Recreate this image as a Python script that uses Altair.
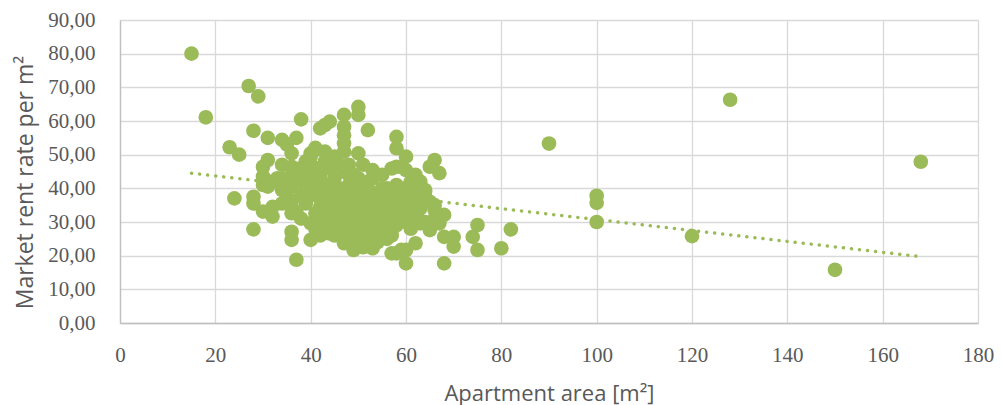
import altair as alt
import pandas as pd

# Apartment area [m²] and market rent rate per m² for each listing
area = [
    15, 18, 23, 25, 24, 27, 29, 28, 31, 34, 37, 38,
    28, 28, 28, 30, 32, 32, 34, 36, 36, 36, 36, 37, 40,
    31, 30, 30, 34, 36, 36, 34, 32, 31, 34, 36, 38, 38, 40, 41,
    42, 43, 44, 47, 47, 47, 47, 47, 50, 50, 52, 58, 58,
    40, 43, 45, 50, 53, 49, 57, 59, 60, 40, 42, 45, 47, 50, 54, 56, 59,
    39, 41, 40, 42, 44, 45, 48, 48, 50, 51, 52, 55, 57, 53, 53, 49, 47, 44,
    58, 60, 60, 60, 66, 67, 65, 58, 62, 64, 64, 59, 57, 60, 66, 68,
    63, 65, 67, 68, 70, 70, 75, 74, 75, 68, 59, 62, 57, 57,
    90, 80, 82, 100, 100, 100, 120, 128, 150, 168,
    41, 42, 43, 44, 45, 46, 47, 48, 49, 50, 51, 52, 53, 54, 55, 56, 57, 58,
    49, 50, 51, 52, 48, 47, 46, 45, 44, 43, 42, 41, 40, 48, 50, 52, 54, 56,
    58, 60, 61, 62, 59, 60, 61, 62, 63, 55, 56, 54, 50, 49, 51, 45, 43, 42,
    41, 38, 37, 35, 34, 33, 36, 38, 39, 41, 43, 44, 46, 47, 48, 49, 51, 53,
    55, 57, 59, 61, 62, 64, 63, 66, 66, 64, 65, 35, 30, 47, 48, 44, 45, 50,
    43, 46, 48, 51, 53, 55, 57, 52, 49, 46, 44, 47, 50, 53, 56, 58, 60, 62,
    63, 61, 59, 45, 48, 52, 55, 42, 39, 40, 38, 46, 49, 54, 43, 42,
]
rent = [
    80.0, 61.1, 52.2, 50.0, 37.0, 70.4, 67.3, 57.1, 55.0, 54.4, 55.0, 60.5,
    37.5, 35.5, 27.8, 33.1, 34.5, 31.6, 35.5, 36.0, 32.6, 27.1, 24.7, 18.8, 24.7,
    48.4, 46.4, 43.5, 47.0, 50.4, 46.4, 43.0, 42.0, 40.5, 39.5, 40.5, 42.5, 45.4, 49.4, 51.4,
    57.8, 58.8, 59.8, 61.8, 58.3, 55.8, 53.3, 50.9, 64.2, 61.8, 57.3, 55.3, 51.9,
    50.4, 50.9, 49.4, 50.4, 45.4, 42.5, 45.9, 46.4, 45.4, 44.5, 43.5, 40.5, 39.5, 38.5, 36.5, 37.5, 35.5,
    35.5, 32.6, 29.6, 34.5, 36.5, 33.6, 32.6, 29.6, 26.6, 31.6, 28.6, 29.6, 27.6, 25.6, 22.2, 21.7, 23.7, 26.6,
    20.7, 21.7, 17.7, 49.4, 48.4, 44.5, 46.4, 46.4, 42.5, 39.5, 37.5, 36.5, 34.5, 33.6, 33.6, 32.1,
    29.6, 27.6, 29.6, 25.6, 25.6, 22.7, 29.1, 25.6, 21.7, 17.7, 21.7, 23.7, 20.7, 26.0,
    53.3, 22.2, 27.8, 37.8, 35.7, 30.0, 25.8, 66.3, 15.8, 47.9,
    38.0, 40.0, 36.0, 34.0, 31.0, 29.0, 36.0, 34.0, 38.0, 36.0, 34.0, 32.0, 30.0, 33.0, 31.0, 33.0, 31.0, 29.0,
    31.0, 28.0, 27.0, 25.0, 27.0, 30.0, 33.0, 37.0, 39.0, 41.0, 44.0, 46.0, 42.0, 41.0, 43.0, 40.0, 38.0, 40.0,
    41.0, 40.0, 38.0, 36.0, 33.0, 30.0, 28.0, 32.0, 34.0, 26.0, 28.0, 24.0, 23.0, 25.0, 22.5, 26.0, 29.0, 31.0,
    28.0, 31.0, 33.0, 38.0, 41.0, 43.0, 44.0, 46.0, 48.0, 52.0, 48.0, 46.0, 47.0, 45.0, 47.0, 44.0, 47.0, 43.0,
    44.0, 37.0, 37.0, 42.0, 44.0, 39.0, 42.0, 35.0, 31.0, 30.0, 36.0, 53.0, 41.0, 34.0, 36.0, 30.0, 28.0, 33.0,
    38.0, 40.0, 38.0, 40.0, 38.0, 35.0, 34.0, 36.0, 35.0, 36.0, 31.0, 27.0, 31.0, 34.0, 25.0, 31.0, 37.0, 39.0,
    37.0, 35.0, 39.0, 43.0, 44.0, 42.0, 40.0, 37.0, 40.0, 38.0, 38.0, 27.0, 28.0, 27.0, 33.0, 26.0,
]

# Linear trend line end points
trend_area = [15, 168]
trend_rent = [44.5, 19.7]

# Axis tick values
x_ticks = [0, 20, 40, 60, 80, 100, 120, 140, 160, 180]
y_ticks = [0, 10, 20, 30, 40, 50, 60, 70, 80, 90]

GREEN = "#9BBB59"
TEXT = "#595959"

points_df = pd.DataFrame({"area": area, "rent": rent})
trend_df = pd.DataFrame({"area": trend_area, "rent": trend_rent})

x_enc = alt.X(
    "area:Q",
    scale=alt.Scale(domain=[0, 180], nice=False, zero=False),
    axis=alt.Axis(
        values=x_ticks,
        title="Apartment area [m²]",
        labelFont="Liberation Serif",
        labelFontSize=21,
        labelColor=TEXT,
        labelPadding=21,
        labelFlush=False,
        labelOverlap=False,
        titleFont="Open Sans",
        titleFontSize=22,
        titleFontWeight="normal",
        titleColor=TEXT,
        titleY=70,
        titleBaseline="middle",
    ),
)
y_enc = alt.Y(
    "rent:Q",
    scale=alt.Scale(domain=[0, 90], nice=False),
    axis=alt.Axis(
        values=y_ticks,
        labelExpr="replace(format(datum.value, '.2f'), '.', ',')",
        title="Market rent rate per m²",
        labelFont="Liberation Serif",
        labelFontSize=21,
        labelColor=TEXT,
        labelPadding=25,
        labelBaseline="middle",
        labelFlush=False,
        labelOverlap=False,
        labelBound=False,
        titleFont="Open Sans",
        titleFontSize=23,
        titleFontWeight="normal",
        titleColor=TEXT,
        titleX=-95,
        titleY=162,
        titleAlign="center",
        titleBaseline="middle",
    ),
)

points = alt.Chart(points_df).mark_circle(
    size=215, color=GREEN, opacity=1
).encode(x=x_enc, y=y_enc)

trend = alt.Chart(trend_df).mark_line(
    color=GREEN, strokeWidth=3.5, strokeDash=[0.1, 8], strokeCap="round"
).encode(x=x_enc, y=y_enc)

chart = (
    alt.layer(points, trend)
    .properties(
        width=858,
        height=303,
        autosize=alt.AutoSizeParams(type="none"),
        padding={"left": 120, "top": 20, "right": 24, "bottom": 82},
        background="white",
    )
    .configure_view(strokeOpacity=0)
    .configure_axis(
        domainColor="#BFBFBF",
        domainWidth=1.3,
        gridColor="#D9D9D9",
        gridWidth=1.3,
        ticks=False,
        tickSize=0,
        grid=True,
        labelOverlap=False,
    )
)

chart.save("out.html", embed_options={"renderer": "svg", "actions": False})
